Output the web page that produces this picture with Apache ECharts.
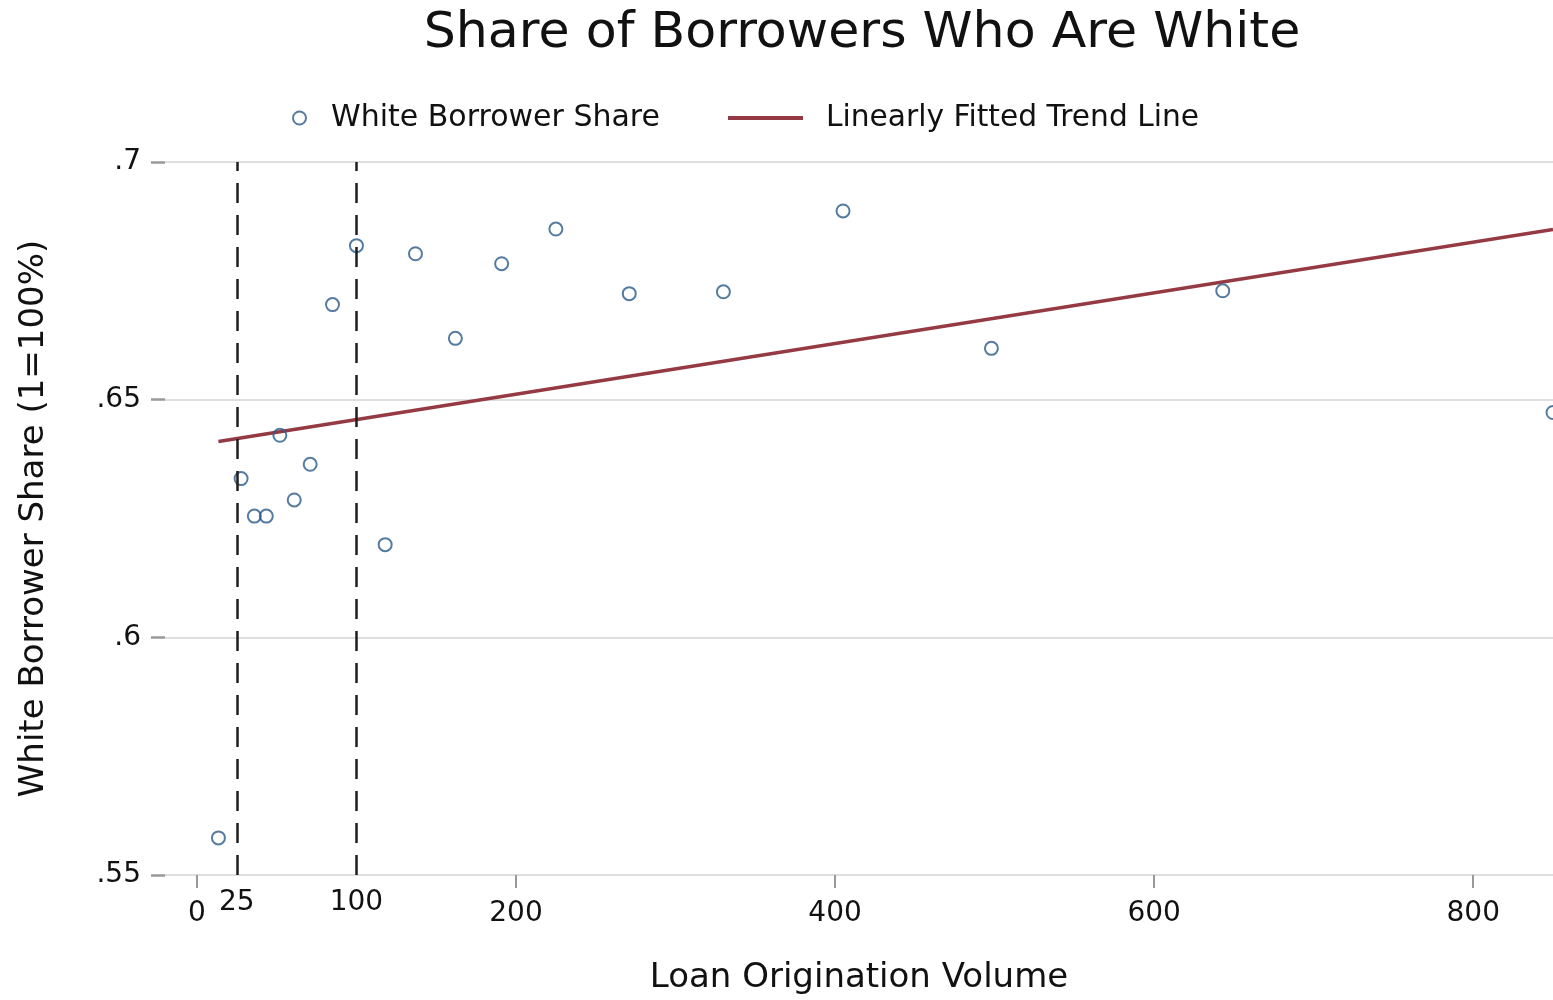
<!DOCTYPE html>
<html>
<head>
<meta charset="utf-8">
<style>
  html, body { margin: 0; padding: 0; background: #fff; }
  #chart { width: 1553px; height: 1000px; }
</style>
<script src="https://cdn.jsdelivr.net/npm/echarts@6/dist/echarts.min.js"></script>
</head>
<body>
<div id="chart"></div>
<script>
// Binned scatter: loan origination volume vs. share of white borrowers
const loanVolume = [13.5, 27.7, 36, 43.5, 52, 61, 71, 85, 100, 118, 137, 162, 191, 225, 271, 330, 405, 498, 643, 850];
const whiteShare = [0.5578, 0.6334, 0.6255, 0.6255, 0.6425, 0.6289, 0.6364, 0.6700, 0.6824, 0.6195, 0.6807, 0.6629, 0.6786, 0.6859, 0.6723, 0.6727, 0.6897, 0.6608, 0.6729, 0.6473];

// Fitted trend line endpoints
const trendX = [13.5, 850];
const trendY = [0.6412, 0.6858];

// Axis ticks and reference cut-offs
const xTickValues = [0, 200, 400, 600, 800];
const yTickValues = [0.55, 0.6, 0.65, 0.7];
const cutoffs = [25, 100];

const FONT = 'DejaVu Sans';
const navy = '#2b5a8a';
const maroon = '#953a43';

const chart = echarts.init(document.getElementById('chart'), null, { renderer: 'canvas' });

chart.setOption({
  animation: false,
  backgroundColor: '#ffffff',
  title: {
    text: 'Share of Borrowers Who Are White',
    left: 857,
    top: 3,
    textAlign: 'center',
    textStyle: { fontFamily: FONT, fontSize: 50.6, fontWeight: 'normal', color: '#111' }
  },
  legend: [
    {
      data: ['White Borrower Share'],
      left: 292,
      top: 103,
      padding: 0,
      itemWidth: 13,
      itemHeight: 13,
      icon: 'circle',
      itemStyle: { color: '#fff', borderColor: navy, borderWidth: 2 },
      textStyle: { fontFamily: FONT, fontSize: 30, color: '#111', padding: [0, 0, 0, 20] }
    },
    {
      data: ['Linearly Fitted Trend Line'],
      left: 728,
      top: 103,
      padding: 0,
      itemWidth: 75,
      itemHeight: 4,
      icon: 'rect',
      itemStyle: { color: maroon, borderWidth: 0 },
      textStyle: { fontFamily: FONT, fontSize: 29.7, color: '#111', padding: [0, 0, 0, 18] }
    }
  ],
  grid: { left: 165, right: -4, top: 162, bottom: 123, containLabel: false },
  xAxis: {
    type: 'value',
    min: -20,
    max: 850,
    name: 'Loan Origination Volume',
    nameLocation: 'middle',
    nameGap: 86,
    nameMoveOverlap: false,
    nameTextStyle: { fontFamily: FONT, fontSize: 34, color: '#111' },
    axisLine: { show: false, onZero: false },
    splitLine: { show: false },
    axisTick: { show: true, length: 13, customValues: xTickValues, lineStyle: { color: '#999', width: 2 } },
    axisLabel: { customValues: xTickValues, margin: 25, fontFamily: FONT, fontSize: 28, color: '#111' }
  },
  yAxis: {
    type: 'value',
    min: 0.55,
    max: 0.7,
    interval: 0.05,
    name: 'White Borrower Share (1=100%)',
    nameLocation: 'middle',
    nameGap: 114,
    nameMoveOverlap: false,
    nameRotate: 90,
    nameTextStyle: { fontFamily: FONT, fontSize: 34, color: '#111' },
    axisLine: { show: false, onZero: false },
    axisTick: { show: true, length: 14, lineStyle: { color: '#999', width: 2.5 } },
    axisLabel: {
      margin: 24,
      fontFamily: FONT, fontSize: 28, color: '#111',
      formatter: v => {
        const s = String(Math.round(v * 100) / 100);
        return s.replace(/^0/, '');
      }
    },
    splitLine: { show: true, lineStyle: { color: '#dedede', width: 2 } }
  },
  series: [
    {
      name: 'White Borrower Share',
      type: 'scatter',
      symbol: 'circle',
      symbolSize: 13,
      clip: false,
      itemStyle: { color: 'rgba(0,0,0,0)', borderColor: navy, borderWidth: 2 },
      data: loanVolume.map((x, i) => [x, whiteShare[i]]),
      z: 4,
      markLine: {
        silent: true,
        symbol: ['none', 'none'],
        animation: false,
        lineStyle: { type: [20, 12], color: '#1e1e1e', width: 2.5 },
        label: {
          show: true,
          position: 'start',
          distance: 14,
          formatter: '{c}',
          fontFamily: FONT, fontSize: 28, color: '#111'
        },
        emphasis: { disabled: true },
        data: cutoffs.map(c => ({ xAxis: c }))
      }
    },
    {
      name: 'Linearly Fitted Trend Line',
      type: 'line',
      symbol: 'none',
      showSymbol: false,
      clip: false,
      lineStyle: { color: maroon, width: 3.5 },
      itemStyle: { color: maroon },
      data: trendX.map((x, i) => [x, trendY[i]]),
      z: 3
    }
  ]
});
</script>
</body>
</html>
